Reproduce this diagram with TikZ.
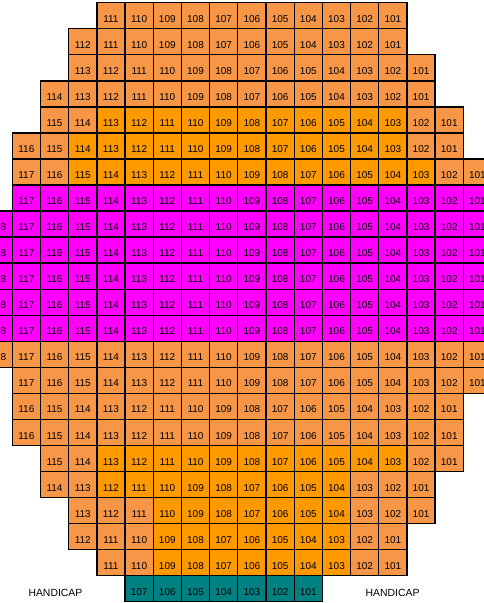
\documentclass[tikz,border=0pt]{standalone}
\usepackage{fontspec}
\setmainfont{Liberation Sans}
\usetikzlibrary{positioning}
\definecolor{lo}{HTML}{F79646}
\definecolor{hi}{HTML}{FF9900}
\definecolor{mg}{HTML}{FF00FF}
\definecolor{tl}{HTML}{008080}

\begin{document}
\begin{tikzpicture}[x=21.14pt,y=-19.53pt,font=\fontsize{7.5}{9}\selectfont,
  seat/.style={draw,line width=1pt,anchor=north west,inner sep=0pt,outer sep=0pt,
    minimum width=21.14pt,minimum height=19.53pt,text height=9.9pt,text depth=0pt},
  hc/.style={inner sep=0pt,text height=5.6pt,text depth=0pt,font=\fontsize{7.8}{9}\selectfont}]
\useasboundingbox (-0.436,-0.104) rectangle (16.733,23.05);
\clip (-0.436,-0.104) rectangle (16.733,23.05);
% row / first seat / last seat / darker block from / to / row colour
\foreach \r/\a/\b/\dl/\dr/\base in {1/3/13/0/-1/lo,2/2/13/0/-1/lo,3/2/14/0/-1/lo,
    4/1/14/0/-1/lo,5/1/15/3/13/lo,6/0/15/2/13/lo,7/0/16/2/14/lo,8/0/16/0/-1/mg,
    9/-1/16/0/-1/mg,10/-1/16/0/-1/mg,11/-1/16/0/-1/mg,12/-1/16/0/-1/mg,
    13/-1/16/0/-1/mg,14/-1/16/0/-1/lo,15/0/16/0/-1/lo,16/0/15/0/-1/lo,
    17/0/15/0/-1/lo,18/1/15/3/13/lo,19/1/14/3/11/lo,20/2/14/5/11/lo,
    21/2/13/5/11/lo,22/3/13/5/11/lo,23/4/10/0/-1/tl}{
  \foreach \k in {\a,...,\b}{
    \pgfmathtruncatemacro\seatno{101+\b-\k}
    \ifnum\k<\dl \def\seatcol{\base}\else\ifnum\k>\dr \def\seatcol{\base}\else\def\seatcol{hi}\fi\fi
    \node[seat,fill=\seatcol] (c\r-\k) at (\k,\r-1) {\seatno};
  }
}
\node[hc] (hcl) at (1.53,22.66) {HANDICAP};
\node[hc] (hcr) at (13.49,22.66) {HANDICAP};
\end{tikzpicture}
\end{document}
